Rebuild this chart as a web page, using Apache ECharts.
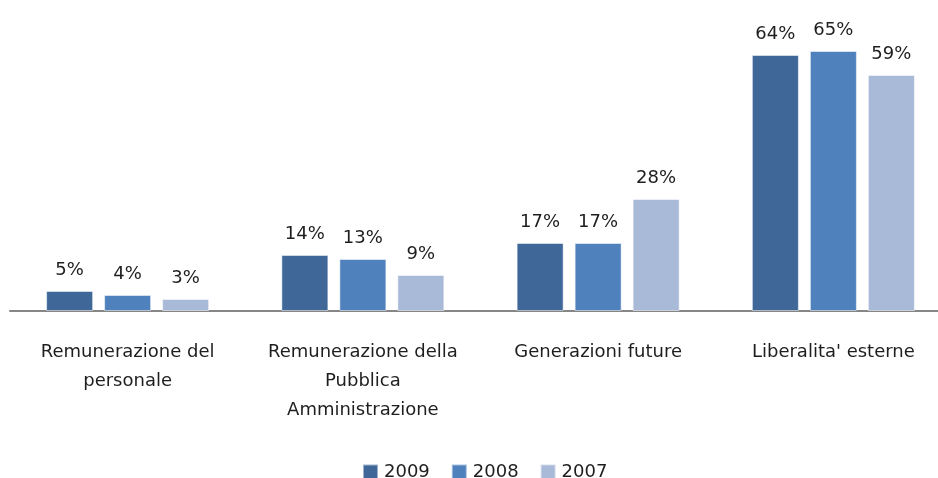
<!DOCTYPE html>
<html>
<head>
<meta charset="utf-8">
<script src="https://cdn.jsdelivr.net/npm/echarts@6/dist/echarts.min.js"></script>
<style>html,body{margin:0;padding:0;background:#fff;overflow:hidden;width:938px;height:478px}#c{width:951px;height:478px}</style>
</head>
<body>
<div id="c"></div>
<script>
const categories = ["Remunerazione del\npersonale", "Remunerazione della\nPubblica\nAmministrazione", "Generazioni future", "Liberalita' esterne"];
const seriesNames = ["2009", "2008", "2007"];
const values2009 = [5, 14, 17, 64];
const values2008 = [4, 13, 17, 65];
const values2007 = [3, 9, 28, 59];
const colors = ["#3F6899", "#4F81BD", "#A9B9D8"];

const FONT = 'DejaVu Sans';
const chart = echarts.init(document.getElementById('c'));
const mk = (name, data, color) => ({
  name, type: 'bar', data, barWidth: 47, barGap: '23.4%',
  itemStyle: { color, borderColor: 'rgba(255,255,255,0.5)', borderWidth: 1 },
  label: { show: true, position: 'top', distance: 12, formatter: '{c}%', color: '#1e1e1e', fontSize: 18, fontFamily: FONT }
});
chart.setOption({
  animation: false,
  color: colors,
  grid: { left: 10, top: 31, right: 0, height: 280, containLabel: false },
  legend: {
    top: 458, left: 357, itemWidth: 15, itemHeight: 15, itemGap: 21,
    icon: 'rect',
    textStyle: { fontSize: 18, color: '#1e1e1e', fontFamily: FONT, padding: [0, 0, 0, 1] },
    data: seriesNames
  },
  xAxis: {
    type: 'category', data: categories,
    axisLine: { lineStyle: { color: '#868686', width: 2 } },
    axisTick: { show: false },
    axisLabel: { interval: 0, margin: 27, fontSize: 18, lineHeight: 29, color: '#1e1e1e', fontFamily: FONT }
  },
  yAxis: { type: 'value', min: 0, max: 70, show: false, splitLine: { show: false } },
  series: [mk(seriesNames[0], values2009, colors[0]), mk(seriesNames[1], values2008, colors[1]), mk(seriesNames[2], values2007, colors[2])]
});
</script>
</body>
</html>
